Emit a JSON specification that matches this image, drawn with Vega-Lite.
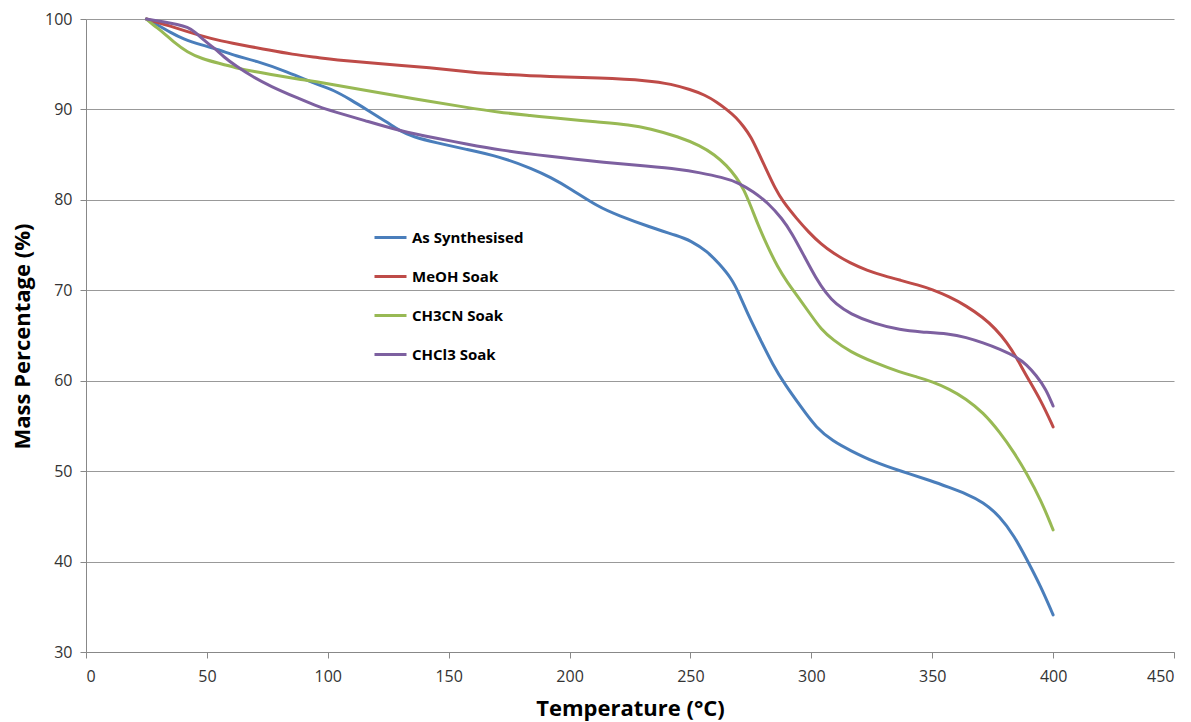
{
  "$schema": "https://vega.github.io/schema/vega-lite/v6.json",
  "width": 1088,
  "height": 633,
  "autosize": {"type": "none"},
  "padding": {"left": 86, "top": 19, "right": 17, "bottom": 70},
  "background": "white",
  "config": {
    "view": {"stroke": null},
    "font": "Open Sans"
  },
  "datasets": {
    "tga": [
      {"s": "As Synthesised", "t": 25, "m": 100}, {"s": "As Synthesised", "t": 30, "m": 99.3}, {"s": "As Synthesised", "t": 35, "m": 98.5}, {"s": "As Synthesised", "t": 40, "m": 97.8}, {"s": "As Synthesised", "t": 48, "m": 97.1}, {"s": "As Synthesised", "t": 55, "m": 96.6}, {"s": "As Synthesised", "t": 62, "m": 95.9}, {"s": "As Synthesised", "t": 70, "m": 95.4}, {"s": "As Synthesised", "t": 83, "m": 94.2}, {"s": "As Synthesised", "t": 97, "m": 92.6}, {"s": "As Synthesised", "t": 102, "m": 92.2}, {"s": "As Synthesised", "t": 110, "m": 91.0}, {"s": "As Synthesised", "t": 116, "m": 90.0}, {"s": "As Synthesised", "t": 125, "m": 88.5}, {"s": "As Synthesised", "t": 130, "m": 87.6}, {"s": "As Synthesised", "t": 135, "m": 87.0}, {"s": "As Synthesised", "t": 145, "m": 86.3}, {"s": "As Synthesised", "t": 157, "m": 85.6}, {"s": "As Synthesised", "t": 171, "m": 84.8}, {"s": "As Synthesised", "t": 185, "m": 83.4}, {"s": "As Synthesised", "t": 192, "m": 82.5}, {"s": "As Synthesised", "t": 200, "m": 81.3}, {"s": "As Synthesised", "t": 212, "m": 79.2}, {"s": "As Synthesised", "t": 220, "m": 78.3}, {"s": "As Synthesised", "t": 233, "m": 77.0}, {"s": "As Synthesised", "t": 245, "m": 76.0}, {"s": "As Synthesised", "t": 250, "m": 75.5}, {"s": "As Synthesised", "t": 257, "m": 74.3}, {"s": "As Synthesised", "t": 262, "m": 72.9}, {"s": "As Synthesised", "t": 267, "m": 71.3}, {"s": "As Synthesised", "t": 270, "m": 69.7}, {"s": "As Synthesised", "t": 274, "m": 67.2}, {"s": "As Synthesised", "t": 279, "m": 64.5}, {"s": "As Synthesised", "t": 284, "m": 61.8}, {"s": "As Synthesised", "t": 289, "m": 59.6}, {"s": "As Synthesised", "t": 296, "m": 57.0}, {"s": "As Synthesised", "t": 302, "m": 54.8}, {"s": "As Synthesised", "t": 309, "m": 53.3}, {"s": "As Synthesised", "t": 316, "m": 52.3}, {"s": "As Synthesised", "t": 326, "m": 51.0}, {"s": "As Synthesised", "t": 337, "m": 50.0}, {"s": "As Synthesised", "t": 350, "m": 48.9}, {"s": "As Synthesised", "t": 357, "m": 48.2}, {"s": "As Synthesised", "t": 364, "m": 47.5}, {"s": "As Synthesised", "t": 371, "m": 46.6}, {"s": "As Synthesised", "t": 378, "m": 45.0}, {"s": "As Synthesised", "t": 384, "m": 42.8}, {"s": "As Synthesised", "t": 389, "m": 40.3}, {"s": "As Synthesised", "t": 395, "m": 37.2}, {"s": "As Synthesised", "t": 400, "m": 34.1},

      {"s": "MeOH Soak", "t": 25, "m": 100}, {"s": "MeOH Soak", "t": 35, "m": 99.2}, {"s": "MeOH Soak", "t": 42, "m": 98.6}, {"s": "MeOH Soak", "t": 47, "m": 98.2}, {"s": "MeOH Soak", "t": 55, "m": 97.6}, {"s": "MeOH Soak", "t": 69, "m": 96.9}, {"s": "MeOH Soak", "t": 75, "m": 96.6}, {"s": "MeOH Soak", "t": 85, "m": 96.1}, {"s": "MeOH Soak", "t": 97, "m": 95.7}, {"s": "MeOH Soak", "t": 102, "m": 95.5}, {"s": "MeOH Soak", "t": 120, "m": 95.1}, {"s": "MeOH Soak", "t": 143, "m": 94.6}, {"s": "MeOH Soak", "t": 160, "m": 94.1}, {"s": "MeOH Soak", "t": 171, "m": 93.9}, {"s": "MeOH Soak", "t": 192, "m": 93.6}, {"s": "MeOH Soak", "t": 212, "m": 93.5}, {"s": "MeOH Soak", "t": 233, "m": 93.2}, {"s": "MeOH Soak", "t": 242, "m": 92.8}, {"s": "MeOH Soak", "t": 250, "m": 92.2}, {"s": "MeOH Soak", "t": 256, "m": 91.6}, {"s": "MeOH Soak", "t": 261, "m": 90.8}, {"s": "MeOH Soak", "t": 265, "m": 90.0}, {"s": "MeOH Soak", "t": 269, "m": 89.1}, {"s": "MeOH Soak", "t": 272, "m": 88.1}, {"s": "MeOH Soak", "t": 275, "m": 87.0}, {"s": "MeOH Soak", "t": 278, "m": 85.3}, {"s": "MeOH Soak", "t": 282, "m": 83.0}, {"s": "MeOH Soak", "t": 285, "m": 81.3}, {"s": "MeOH Soak", "t": 288, "m": 79.9}, {"s": "MeOH Soak", "t": 294, "m": 77.9}, {"s": "MeOH Soak", "t": 299, "m": 76.4}, {"s": "MeOH Soak", "t": 304, "m": 75.1}, {"s": "MeOH Soak", "t": 309, "m": 74.1}, {"s": "MeOH Soak", "t": 316, "m": 73.0}, {"s": "MeOH Soak", "t": 323, "m": 72.2}, {"s": "MeOH Soak", "t": 330, "m": 71.6}, {"s": "MeOH Soak", "t": 337, "m": 71.1}, {"s": "MeOH Soak", "t": 344, "m": 70.6}, {"s": "MeOH Soak", "t": 350, "m": 70.1}, {"s": "MeOH Soak", "t": 357, "m": 69.3}, {"s": "MeOH Soak", "t": 364, "m": 68.3}, {"s": "MeOH Soak", "t": 371, "m": 67.0}, {"s": "MeOH Soak", "t": 376, "m": 65.8}, {"s": "MeOH Soak", "t": 381, "m": 64.2}, {"s": "MeOH Soak", "t": 385, "m": 62.5}, {"s": "MeOH Soak", "t": 389, "m": 60.5}, {"s": "MeOH Soak", "t": 395, "m": 57.8}, {"s": "MeOH Soak", "t": 400, "m": 54.9},

      {"s": "CH3CN Soak", "t": 25, "m": 100}, {"s": "CH3CN Soak", "t": 28, "m": 99.3}, {"s": "CH3CN Soak", "t": 32, "m": 98.5}, {"s": "CH3CN Soak", "t": 36, "m": 97.5}, {"s": "CH3CN Soak", "t": 42, "m": 96.3}, {"s": "CH3CN Soak", "t": 48, "m": 95.6}, {"s": "CH3CN Soak", "t": 55, "m": 95.1}, {"s": "CH3CN Soak", "t": 62, "m": 94.6}, {"s": "CH3CN Soak", "t": 69, "m": 94.2}, {"s": "CH3CN Soak", "t": 80, "m": 93.7}, {"s": "CH3CN Soak", "t": 89, "m": 93.3}, {"s": "CH3CN Soak", "t": 97, "m": 93.0}, {"s": "CH3CN Soak", "t": 116, "m": 92.1}, {"s": "CH3CN Soak", "t": 135, "m": 91.2}, {"s": "CH3CN Soak", "t": 158, "m": 90.2}, {"s": "CH3CN Soak", "t": 170, "m": 89.7}, {"s": "CH3CN Soak", "t": 185, "m": 89.3}, {"s": "CH3CN Soak", "t": 192, "m": 89.1}, {"s": "CH3CN Soak", "t": 212, "m": 88.6}, {"s": "CH3CN Soak", "t": 225, "m": 88.3}, {"s": "CH3CN Soak", "t": 233, "m": 87.9}, {"s": "CH3CN Soak", "t": 245, "m": 87.0}, {"s": "CH3CN Soak", "t": 254, "m": 86.0}, {"s": "CH3CN Soak", "t": 260, "m": 85.0}, {"s": "CH3CN Soak", "t": 265, "m": 83.8}, {"s": "CH3CN Soak", "t": 269, "m": 82.5}, {"s": "CH3CN Soak", "t": 272, "m": 81.2}, {"s": "CH3CN Soak", "t": 275, "m": 79.3}, {"s": "CH3CN Soak", "t": 278, "m": 77.2}, {"s": "CH3CN Soak", "t": 282, "m": 74.8}, {"s": "CH3CN Soak", "t": 286, "m": 72.6}, {"s": "CH3CN Soak", "t": 290, "m": 70.9}, {"s": "CH3CN Soak", "t": 295, "m": 69.1}, {"s": "CH3CN Soak", "t": 300, "m": 67.2}, {"s": "CH3CN Soak", "t": 304, "m": 65.7}, {"s": "CH3CN Soak", "t": 309, "m": 64.5}, {"s": "CH3CN Soak", "t": 316, "m": 63.2}, {"s": "CH3CN Soak", "t": 326, "m": 62.0}, {"s": "CH3CN Soak", "t": 337, "m": 60.9}, {"s": "CH3CN Soak", "t": 344, "m": 60.4}, {"s": "CH3CN Soak", "t": 350, "m": 59.9}, {"s": "CH3CN Soak", "t": 357, "m": 59.1}, {"s": "CH3CN Soak", "t": 364, "m": 58.0}, {"s": "CH3CN Soak", "t": 371, "m": 56.5}, {"s": "CH3CN Soak", "t": 378, "m": 54.3}, {"s": "CH3CN Soak", "t": 384, "m": 52.0}, {"s": "CH3CN Soak", "t": 389, "m": 49.8}, {"s": "CH3CN Soak", "t": 395, "m": 46.8}, {"s": "CH3CN Soak", "t": 400, "m": 43.5},

      {"s": "CHCl3 Soak", "t": 25, "m": 100}, {"s": "CHCl3 Soak", "t": 32, "m": 99.7}, {"s": "CHCl3 Soak", "t": 38, "m": 99.4}, {"s": "CHCl3 Soak", "t": 42, "m": 99.1}, {"s": "CHCl3 Soak", "t": 45, "m": 98.6}, {"s": "CHCl3 Soak", "t": 48, "m": 97.8}, {"s": "CHCl3 Soak", "t": 53, "m": 96.8}, {"s": "CHCl3 Soak", "t": 57, "m": 95.8}, {"s": "CHCl3 Soak", "t": 62, "m": 94.8}, {"s": "CHCl3 Soak", "t": 69, "m": 93.6}, {"s": "CHCl3 Soak", "t": 76, "m": 92.6}, {"s": "CHCl3 Soak", "t": 88, "m": 91.2}, {"s": "CHCl3 Soak", "t": 97, "m": 90.2}, {"s": "CHCl3 Soak", "t": 102, "m": 89.8}, {"s": "CHCl3 Soak", "t": 115, "m": 88.8}, {"s": "CHCl3 Soak", "t": 130, "m": 87.6}, {"s": "CHCl3 Soak", "t": 145, "m": 86.8}, {"s": "CHCl3 Soak", "t": 157, "m": 86.2}, {"s": "CHCl3 Soak", "t": 171, "m": 85.5}, {"s": "CHCl3 Soak", "t": 192, "m": 84.8}, {"s": "CHCl3 Soak", "t": 212, "m": 84.2}, {"s": "CHCl3 Soak", "t": 233, "m": 83.7}, {"s": "CHCl3 Soak", "t": 245, "m": 83.4}, {"s": "CHCl3 Soak", "t": 254, "m": 83.0}, {"s": "CHCl3 Soak", "t": 263, "m": 82.5}, {"s": "CHCl3 Soak", "t": 270, "m": 81.9}, {"s": "CHCl3 Soak", "t": 276, "m": 80.9}, {"s": "CHCl3 Soak", "t": 282, "m": 79.7}, {"s": "CHCl3 Soak", "t": 288, "m": 77.9}, {"s": "CHCl3 Soak", "t": 292, "m": 76.3}, {"s": "CHCl3 Soak", "t": 297, "m": 73.8}, {"s": "CHCl3 Soak", "t": 302, "m": 71.3}, {"s": "CHCl3 Soak", "t": 306, "m": 69.7}, {"s": "CHCl3 Soak", "t": 310, "m": 68.5}, {"s": "CHCl3 Soak", "t": 316, "m": 67.4}, {"s": "CHCl3 Soak", "t": 326, "m": 66.3}, {"s": "CHCl3 Soak", "t": 337, "m": 65.6}, {"s": "CHCl3 Soak", "t": 345, "m": 65.4}, {"s": "CHCl3 Soak", "t": 357, "m": 65.2}, {"s": "CHCl3 Soak", "t": 364, "m": 64.8}, {"s": "CHCl3 Soak", "t": 371, "m": 64.2}, {"s": "CHCl3 Soak", "t": 378, "m": 63.5}, {"s": "CHCl3 Soak", "t": 385, "m": 62.6}, {"s": "CHCl3 Soak", "t": 389, "m": 61.8}, {"s": "CHCl3 Soak", "t": 393, "m": 60.6}, {"s": "CHCl3 Soak", "t": 397, "m": 59.1}, {"s": "CHCl3 Soak", "t": 400, "m": 57.2}
    ]
  },
  "data": {"name": "tga"},
  "mark": {"type": "line", "interpolate": "basis", "strokeWidth": 3, "strokeCap": "round"},
  "encoding": {
    "x": {
      "field": "t", "type": "quantitative",
      "scale": {"domain": [0, 450], "nice": false, "zero": false},
      "axis": {
        "title": "Temperature (°C)",
        "values": [0, 50, 100, 150, 200, 250, 300, 350, 400, 450],
        "grid": false,
        "domainColor": "#888888", "domainWidth": 1,
        "tickColor": "#888888", "tickSize": 6,
        "labelFont": "Open Sans", "labelFontSize": 16, "labelColor": "#333333", "labelPadding": 10,
        "titleFont": "Open Sans", "titleFontSize": 22, "titleFontWeight": "bold", "titleColor": "#000000",
        "titleX": 544, "titleY": 56, "titleBaseline": "middle", "titleAlign": "center"
      }
    },
    "y": {
      "field": "m", "type": "quantitative",
      "scale": {"domain": [30, 100], "nice": false, "zero": false},
      "axis": {
        "title": "Mass Percentage (%)",
        "values": [30, 40, 50, 60, 70, 80, 90, 100],
        "grid": true, "gridColor": "#999999", "gridWidth": 1,
        "domainColor": "#888888", "domainWidth": 1,
        "tickColor": "#888888", "tickSize": 6,
        "labelFont": "Open Sans", "labelFontSize": 16, "labelColor": "#333333", "labelPadding": 8,
        "titleFont": "Open Sans", "titleFontSize": 22, "titleFontWeight": "bold", "titleColor": "#000000",
        "titleAngle": -90, "titleX": -64, "titleY": 317, "titleBaseline": "middle", "titleAlign": "center"
      }
    },
    "color": {
      "field": "s", "type": "nominal",
      "scale": {
        "domain": ["As Synthesised", "MeOH Soak", "CH3CN Soak", "CHCl3 Soak"],
        "range": ["#4A7EBB", "#BE4B48", "#98B954", "#7D60A0"]
      },
      "legend": {
        "title": null,
        "orient": "none",
        "legendX": 287,
        "legendY": 201,
        "symbolType": "stroke",
        "symbolSize": 1024,
        "symbolStrokeWidth": 3,
        "labelFont": "Open Sans",
        "labelFontSize": 15,
        "labelFontWeight": "bold",
        "labelColor": "#000000",
        "labelOffset": 4,
        "rowPadding": 13
      }
    }
  }
}
